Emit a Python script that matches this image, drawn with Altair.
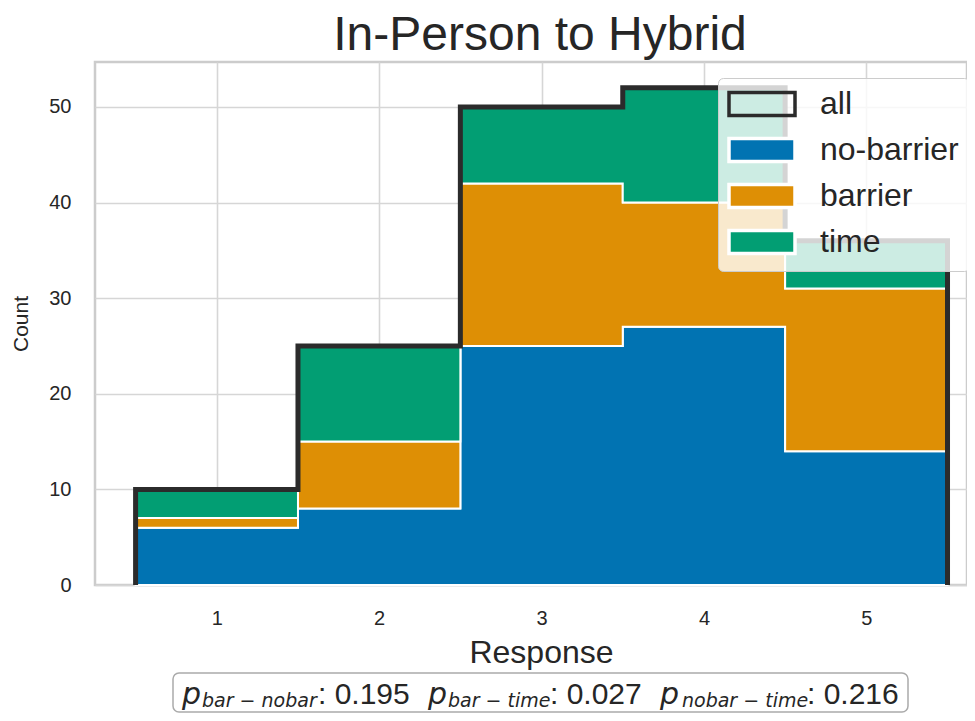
import altair as alt
import pandas as pd

# ---- data ----
responses = [1, 2, 3, 4, 5]
no_barrier = [6, 8, 25, 27, 14]
barrier = [1, 7, 17, 13, 17]
time_counts = [3, 10, 8, 12, 5]
all_counts = [10, 25, 50, 52, 36]
groups = ["all", "no-barrier", "barrier", "time"]
fill_colors = ["transparent", "#0173b2", "#de8f05", "#029e73"]
stroke_colors = ["#2b2b2b", "white", "white", "white"]
y_ticks = [0, 10, 20, 30, 40, 50]
p_subs = ["bar − nobar", "bar − time", "nobar − time"]
p_values = ["0.195", "0.027", "0.216"]

FONT = "Liberation Sans"
MATH = "DejaVu Sans"
TXT = "#262626"

# ---- stacked step areas ----
rows = []
lower = [0] * len(responses)
for name, vals in [("no-barrier", no_barrier), ("barrier", barrier), ("time", time_counts)]:
    upper = [a + b for a, b in zip(lower, vals)]
    xs = [r - 0.5 for r in responses] + [responses[-1] + 0.5]
    lo = lower + [lower[-1]]
    up = upper + [upper[-1]]
    for x, a, b in zip(xs, lo, up):
        rows.append({"group": name, "x": x, "y0": a, "y1": b})
    lower = upper
area_df = pd.DataFrame(rows)

ox = [responses[0] - 0.5] + [r - 0.5 for r in responses] + [responses[-1] + 0.5] * 2
oy = [0] + all_counts + [all_counts[-1], 0]
outline_df = pd.DataFrame({"x": ox, "y": oy, "i": list(range(len(ox))), "group": "all"})

x_scale = alt.Scale(domain=[0.25, 5.62], nice=False, zero=False)
y_scale = alt.Scale(domain=[0, 54.7], nice=False)

legend = alt.Legend(
    title=None, orient="none", legendX=623, legendY=16,
    symbolType="M-3,-1.045H3V1.045H-3Z", symbolSize=22 * 22, symbolStrokeWidth=3.5,
    symbolOpacity=1, symbolOffset=18,
    labelFontSize=32, labelFont=FONT, labelColor=TXT, labelOffset=42, labelLimit=400,
    rowPadding=8, padding=10,
    fillColor="rgba(255,255,255,0.8)", strokeColor="#cccccc", cornerRadius=5,
)

areas = alt.Chart(area_df).mark_area(
    interpolate="step-after", stroke="white", strokeWidth=2, opacity=1
).encode(
    x=alt.X("x:Q", scale=x_scale,
            axis=alt.Axis(values=responses, title="Response", format="d",
                          labelFontSize=20, labelPadding=23, titleFontSize=32, titlePadding=9,
                          titleX=446)),
    y=alt.Y("y0:Q", scale=y_scale,
            axis=alt.Axis(values=y_ticks, title="Count", labelFontSize=20, labelPadding=24,
                          titleFontSize=21, titlePadding=17)),
    y2="y1:Q",
    fill=alt.Fill("group:N", scale=alt.Scale(domain=groups, range=fill_colors), legend=legend),
)

outline = alt.Chart(outline_df).mark_line(
    interpolate="step-after", strokeWidth=5, strokeCap="butt", strokeJoin="miter"
).encode(
    x=alt.X("x:Q", scale=x_scale),
    y=alt.Y("y:Q", scale=y_scale),
    order="i:Q",
    stroke=alt.Stroke("group:N", scale=alt.Scale(domain=groups, range=stroke_colors), legend=legend),
)

one = alt.Data(values=[{}])

box = alt.Chart(one).mark_rect(
    fill="white", stroke="#aaaaaa", strokeWidth=1.5, cornerRadius=6
).encode(x=alt.value(78), x2=alt.value(813), y=alt.value(611), y2=alt.value(650))

def txt(s, x, y, size, font, italic):
    return alt.Chart(one).mark_text(
        text=s, align="left", baseline="alphabetic", font=font, fontSize=size,
        fontStyle="italic" if italic else "normal", color=TXT
    ).encode(x=alt.value(x), y=alt.value(y))

p_x = [87, 333, 565]
sub_x = [107, 353, 587]
val_x = [223, 455, 712]
ann = []
for k in range(3):
    ann.append(txt("p", p_x[k], 642, 30, MATH, True))
    ann.append(txt(p_subs[k], sub_x[k], 645, 19, MATH, True))
    ann.append(txt(": " + p_values[k], val_x[k], 642, 30, FONT, False))

chart = alt.layer(areas, outline, box, *ann).properties(
    width=872, height=523,
    title=alt.TitleParams("In-Person to Hybrid", fontSize=48, font=FONT, color=TXT,
                          fontWeight="normal", offset=2, dx=9, anchor="middle"),
    autosize=alt.AutoSizeParams(type="none"),
    padding={"left": 87, "top": 54, "right": 0, "bottom": 128},
).configure_view(
    stroke="#cccccc", strokeWidth=2.5
).configure_axis(
    grid=True, gridColor="#d6d6d6", gridWidth=1.6, domain=False, ticks=False, tickSize=0,
    labelColor=TXT, labelFont=FONT, titleFont=FONT, titleColor=TXT, titleFontWeight="normal",
)

chart.save("out.html", embed_options={"renderer": "svg", "actions": False})
